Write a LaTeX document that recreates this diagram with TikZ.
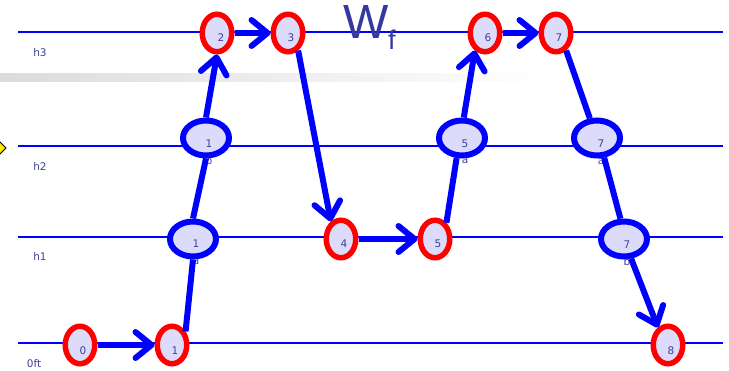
\documentclass[tikz,border=0pt]{standalone}
\usepackage{fontspec}
\setmainfont{DejaVu Sans}
\newfontfamily\wfont{Liberation Sans}
\usetikzlibrary{shapes.geometric,arrows.meta,calc}
\definecolor{lblc}{RGB}{64,64,150}
\definecolor{fillc}{RGB}{220,220,250}
\definecolor{wfc}{RGB}{55,55,160}
\definecolor{hlc}{RGB}{0,0,255}
\begin{document}
\begin{tikzpicture}[x=1pt,y=-1pt,
  lbl/.style={text=lblc,font=\fontsize{10.5}{12}\selectfont,inner sep=0pt},
  rednode/.style={ellipse,draw=red,line width=5.5pt,fill=fillc,minimum width=29.5pt,minimum height=37.5pt,inner sep=0pt},
  bluenode/.style={ellipse,draw=hlc,line width=6pt,fill=fillc,minimum width=46pt,minimum height=35pt,inner sep=0pt},
  hline/.style={draw=hlc,line width=2.2pt},
  conn/.style={draw=hlc,line width=6pt},
  arr/.style={conn,-{Straight Barb[length=16pt,width=26pt,round]}},
]
\useasboundingbox (0,0) rectangle (729,371);
% gray band
\shade[left color=black!14,right color=white] (0,74) rectangle (545,82);
% yellow diamond
\draw[fill=yellow!90!orange,line width=1pt] (-3,139) -- (6,148) -- (-3,157) -- (-12,148) -- cycle;
% horizontal lines
\coordinate (h3a) at (18,32); \coordinate (h3b) at (723,32);
\coordinate (h2a) at (18,146); \coordinate (h2b) at (723,146);
\coordinate (h1a) at (18,237); \coordinate (h1b) at (723,237);
\coordinate (h0a) at (18,343); \coordinate (h0b) at (723,343);
\draw[hline] (h3a) -- (h3b);
\draw[hline] (h2a) -- (h2b);
\draw[hline] (h1a) -- (h1b);
\draw[hline] (h0a) -- (h0b);
% level labels
\node[lbl] (lh3) at (40,53) {h3};
\node[lbl] (lh2) at (40,167) {h2};
\node[lbl] (lh1) at (40,257) {h1};
\node[lbl] (lh0) at (34,364) {0ft};
% title
\node[anchor=base west,inner sep=0pt,text=wfc,font=\wfont\fontsize{48}{50}\selectfont] (W) at (343,39) {W};
\node[anchor=base west,inner sep=0pt,text=wfc,font=\wfont\fontsize{27}{30}\selectfont] (Wsub) at (388,50) {f};
% sub labels under blue ellipses
\node[lbl] (lb1) at (209,161) {b};
\node[lbl] (la1) at (196,262) {a};
\node[lbl] (la5) at (465,161) {a};
\node[lbl] (la7) at (601,162) {a};
\node[lbl] (lb7) at (627,262) {b};
% red nodes
\node[rednode,label={[lbl,xshift=3pt,yshift=-6pt]center:0}] (n0) at (80,345) {};
\node[rednode,label={[lbl,xshift=3pt,yshift=-6pt]center:1}] (n1) at (172,345) {};
\node[rednode,label={[lbl,xshift=4pt,yshift=-5pt]center:2}] (n2) at (217,33) {};
\node[rednode,label={[lbl,xshift=3pt,yshift=-5pt]center:3}] (n3) at (288,33) {};
\node[rednode,label={[lbl,xshift=3pt,yshift=-5pt]center:4}] (n4) at (341,239) {};
\node[rednode,label={[lbl,xshift=3pt,yshift=-5pt]center:5}] (n5) at (435,239) {};
\node[rednode,label={[lbl,xshift=3pt,yshift=-5pt]center:6}] (n6) at (485,33) {};
\node[rednode,label={[lbl,xshift=3pt,yshift=-5pt]center:7}] (n7) at (556,33) {};
\node[rednode,label={[lbl,xshift=3pt,yshift=-6pt]center:8}] (n8) at (668,345) {};
% blue nodes
\node[bluenode,label={[lbl,xshift=3pt,yshift=-6pt]center:1}] (b1) at (206,138) {};
\node[bluenode,label={[lbl,xshift=3pt,yshift=-5pt]center:1}] (a1) at (193,239) {};
\node[bluenode,label={[lbl,xshift=3pt,yshift=-6pt]center:5}] (b5) at (462,138) {};
\node[bluenode,label={[lbl,xshift=4pt,yshift=-6pt]center:7}] (b7) at (597,138) {};
\node[bluenode,label={[lbl,xshift=3pt,yshift=-6pt]center:7}] (c7) at (624,239) {};
% connectors
\draw[arr] (n0.east) -- (n1.west);
\draw[conn] (n1.45) -- (a1.south);
\draw[conn] (a1.north) -- (b1.south);
\draw[arr] (b1.north) -- (n2.south);
\draw[arr] (n2.east) -- (n3.west);
\draw[arr] (n3.-60) -- (n4.120);
\draw[arr] (n4.east) -- (n5.west);
\draw[conn] (n5.55) -- (b5.-105);
\draw[arr] (b5.85) -- (n6.-120);
\draw[arr] (n6.east) -- (n7.west);
\draw[conn] (n7.-60) -- (b7.110);
\draw[conn] (b7.-70) -- (c7.100);
\draw[arr] (c7.-70) -- (n8.120);
\end{tikzpicture}
\end{document}
